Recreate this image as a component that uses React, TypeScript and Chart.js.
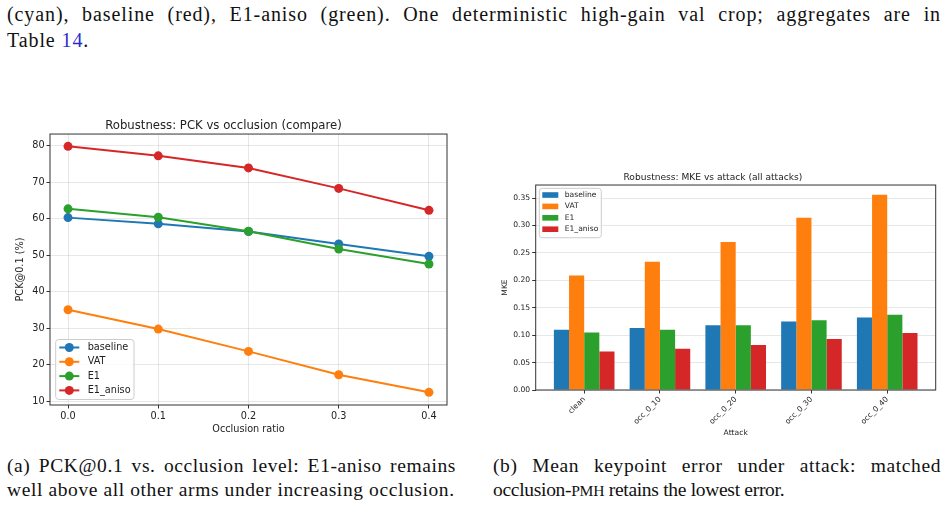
import React, { useEffect, useRef } from "react";
import { Chart, registerables } from "chart.js";

Chart.register(...registerables);

// ---- data ---------------------------------------------------------------
const seriesNames = ["baseline", "VAT", "E1", "E1_aniso"];
const seriesColors = ["#1f77b4", "#ff7f0e", "#2ca02c", "#d62728"];

const occlusionRatios = [0.0, 0.1, 0.2, 0.3, 0.4];
const occlusionTicks = [0.0, 0.1, 0.2, 0.3, 0.4];
const pckTicks = [10, 20, 30, 40, 50, 60, 70, 80];
const pckBaseline = [60.3, 58.6, 56.5, 53.1, 49.7];
const pckVAT = [35.1, 29.8, 23.7, 17.3, 12.5];
const pckE1 = [62.7, 60.4, 56.6, 51.7, 47.6];
const pckE1Aniso = [79.8, 77.2, 73.9, 68.3, 62.3];

const attackNames = ["clean", "occ_0_10", "occ_0_20", "occ_0_30", "occ_0_40"];
const attackPositions = [0, 1, 2, 3, 4];
const mkeTicks = [0.0, 0.05, 0.1, 0.15, 0.2, 0.25, 0.3, 0.35];
const mkeBaseline = [0.11, 0.113, 0.118, 0.125, 0.132];
const mkeVAT = [0.209, 0.234, 0.27, 0.314, 0.356];
const mkeE1 = [0.105, 0.11, 0.118, 0.127, 0.137];
const mkeE1Aniso = [0.07, 0.075, 0.082, 0.093, 0.104];

// ---- shared styling -------------------------------------------------------
const SANS = "'DejaVu Sans', sans-serif";
const SERIF = "'Liberation Serif', 'Times New Roman', serif";
const INK = "#222";
const GRID = "rgba(176,176,176,0.3)";
const SPINE = "#333";

// Full box around the plotting area
const framePlugin = {
  id: "frame",
  afterDatasetsDraw(chart: any) {
    const { ctx, chartArea: a } = chart;
    ctx.save();
    ctx.strokeStyle = SPINE;
    ctx.lineWidth = 1;
    ctx.strokeRect(a.left, a.top, a.right - a.left, a.bottom - a.top);
    ctx.restore();
  },
};

type LegendSpec = {
  kind: "line" | "patch";
  dx: number;
  dy: number;
  anchorBottom: boolean;
  width: number;
  height: number;
  firstRow: number;
  rowGap: number;
  handleX: number;
  handleW: number;
  patchH: number;
  textX: number;
  fontSize: number;
};

function makeLegendPlugin(id: string, spec: LegendSpec) {
  return {
    id,
    afterDatasetsDraw(chart: any) {
      const { ctx, chartArea: a } = chart;
      const left = a.left + spec.dx;
      const top = spec.anchorBottom ? a.bottom - spec.dy - spec.height : a.top + spec.dy;
      ctx.save();
      ctx.beginPath();
      if (ctx.roundRect) ctx.roundRect(left, top, spec.width, spec.height, 3);
      else ctx.rect(left, top, spec.width, spec.height);
      ctx.fillStyle = "rgba(255,255,255,0.8)";
      ctx.fill();
      ctx.strokeStyle = "#cccccc";
      ctx.lineWidth = 1;
      ctx.stroke();
      chart.data.datasets.forEach((ds: any, i: number) => {
        const y = top + spec.firstRow + i * spec.rowGap;
        const color = seriesColors[i];
        const hx = left + spec.handleX;
        if (spec.kind === "line") {
          ctx.strokeStyle = color;
          ctx.lineWidth = 2;
          ctx.beginPath();
          ctx.moveTo(hx, y);
          ctx.lineTo(hx + spec.handleW, y);
          ctx.stroke();
          ctx.fillStyle = color;
          ctx.beginPath();
          ctx.arc(hx + spec.handleW / 2, y, 4.5, 0, Math.PI * 2);
          ctx.fill();
        } else {
          ctx.fillStyle = color;
          ctx.fillRect(hx, y - spec.patchH / 2, spec.handleW, spec.patchH);
        }
        ctx.fillStyle = INK;
        ctx.font = `${spec.fontSize}px ${SANS}`;
        ctx.textBaseline = "middle";
        ctx.textAlign = "left";
        ctx.fillText(ds.label, left + spec.textX, y);
      });
      ctx.restore();
    },
  };
}

// ---- (a) PCK vs occlusion ---------------------------------------------------
function PckChart() {
  const ref = useRef<HTMLCanvasElement | null>(null);
  useEffect(() => {
    if (!ref.current) return;
    const series = [pckBaseline, pckVAT, pckE1, pckE1Aniso];
    const tickFont = { family: SANS, size: 9.7 };
    const chart = new Chart(ref.current, {
      type: "line",
      data: {
        datasets: series.map((vals, i) => ({
          label: seriesNames[i],
          data: vals.map((v, j) => ({ x: occlusionRatios[j], y: v })),
          borderColor: seriesColors[i],
          backgroundColor: seriesColors[i],
          borderWidth: 2,
          pointRadius: 4.5,
          pointBorderWidth: 0,
          pointBackgroundColor: seriesColors[i],
          tension: 0,
          order: series.length - 1 - i,
        })),
      },
      options: {
        animation: false,
        responsive: false,
        maintainAspectRatio: false,
        layout: { padding: { left: 0, top: 0, right: 23, bottom: 0 } },
        plugins: {
          legend: { display: false },
          tooltip: { enabled: false },
          title: {
            display: true,
            text: "Robustness: PCK vs occlusion (compare)",
            color: INK,
            font: { family: SANS, size: 11.7, weight: "normal" },
            padding: { top: 8.5, bottom: 1.5 },
          },
        },
        scales: {
          x: {
            type: "linear",
            min: -0.02,
            max: 0.42,
            afterBuildTicks: (s: any) => {
              s.ticks = occlusionTicks.map((v) => ({ value: v }));
            },
            afterFit: (s: any) => {
              s.height = 40;
            },
            ticks: {
              callback: (v: any) => Number(v).toFixed(1),
              color: INK,
              font: tickFont,
              padding: 1.8,
              maxRotation: 0,
              autoSkip: false,
            },
            grid: { color: GRID, tickColor: SPINE, tickLength: 3.5, lineWidth: 1 },
            border: { display: false },
            title: {
              display: true,
              text: "Occlusion ratio",
              color: INK,
              font: tickFont,
              padding: { top: 0, bottom: 10 },
            },
          },
          y: {
            type: "linear",
            min: 9.03,
            max: 83.17,
            afterBuildTicks: (s: any) => {
              s.ticks = pckTicks.map((v) => ({ value: v }));
            },
            afterFit: (s: any) => {
              s.width = 50;
            },
            ticks: { color: INK, font: tickFont, padding: 1.8, autoSkip: false },
            grid: { color: GRID, tickColor: SPINE, tickLength: 3.5, lineWidth: 1 },
            border: { display: false },
            title: {
              display: true,
              text: "PCK@0.1 (%)",
              color: INK,
              font: tickFont,
              padding: { top: 15, bottom: 0 },
            },
          },
        },
      },
      plugins: [
        framePlugin,
        makeLegendPlugin("pckLegend", {
          kind: "line",
          dx: 5.7,
          dy: 5.5,
          anchorBottom: true,
          width: 78.3,
          height: 60,
          firstRow: 8,
          rowGap: 14.3,
          handleX: 3.6,
          handleW: 20,
          patchH: 0,
          textX: 32,
          fontSize: 9.7,
        }),
      ],
    } as any);
    return () => chart.destroy();
  }, []);
  return (
    <canvas
      ref={ref}
      width={470}
      height={335}
      style={{ position: "absolute", left: 0, top: 110, width: 470, height: 335 }}
    />
  );
}

// ---- (b) MKE vs attack ------------------------------------------------------
function MkeChart() {
  const ref = useRef<HTMLCanvasElement | null>(null);
  useEffect(() => {
    if (!ref.current) return;
    const series = [mkeBaseline, mkeVAT, mkeE1, mkeE1Aniso];
    const tickFont = { family: SANS, size: 7.6 };
    const chart = new Chart(ref.current, {
      type: "bar",
      data: {
        datasets: series.map((vals, i) => ({
          label: seriesNames[i],
          data: vals.map((v, j) => ({ x: attackPositions[j], y: v })),
          backgroundColor: seriesColors[i],
          borderWidth: 0,
          categoryPercentage: 0.8,
          barPercentage: 1.0,
        })),
      },
      options: {
        animation: false,
        responsive: false,
        maintainAspectRatio: false,
        layout: { padding: { left: 0, top: 0, right: 13.3, bottom: 0 } },
        plugins: {
          legend: { display: false },
          tooltip: { enabled: false },
          title: {
            display: true,
            text: "Robustness: MKE vs attack (all attacks)",
            color: INK,
            font: { family: SANS, size: 9.1, weight: "normal" },
            padding: { top: 7.2, bottom: 1.9 },
          },
        },
        scales: {
          x: {
            type: "linear",
            min: -0.64,
            max: 4.64,
            offset: false,
            afterBuildTicks: (s: any) => {
              s.ticks = attackPositions.map((v) => ({ value: v }));
            },
            afterFit: (s: any) => {
              s.height = 55;
            },
            ticks: {
              callback: (v: any) => attackNames[Math.round(Number(v))] ?? "",
              color: INK,
              font: tickFont,
              padding: 1.5,
              minRotation: 45,
              maxRotation: 45,
              autoSkip: false,
            },
            grid: {
              offset: false,
              drawOnChartArea: false,
              tickColor: SPINE,
              tickLength: 3.5,
            },
            border: { display: false },
            title: {
              display: true,
              text: "Attack",
              color: INK,
              font: tickFont,
              padding: { top: 0, bottom: 7.7 },
            },
          },
          y: {
            type: "linear",
            min: 0,
            max: 0.3738,
            afterBuildTicks: (s: any) => {
              s.ticks = mkeTicks.map((v) => ({ value: v }));
            },
            afterFit: (s: any) => {
              s.width = 45.7;
            },
            ticks: {
              callback: (v: any) => Number(v).toFixed(2),
              color: INK,
              font: tickFont,
              padding: 2,
              autoSkip: false,
            },
            grid: { color: GRID, tickColor: SPINE, tickLength: 3.5, lineWidth: 1 },
            border: { display: false },
            title: {
              display: true,
              text: "MKE",
              color: INK,
              font: tickFont,
              padding: { top: 10.4, bottom: 0 },
            },
          },
        },
      },
      plugins: [
        framePlugin,
        makeLegendPlugin("mkeLegend", {
          kind: "patch",
          dx: 3.6,
          dy: 3.3,
          anchorBottom: false,
          width: 62,
          height: 49.4,
          firstRow: 6.7,
          rowGap: 11.4,
          handleX: 3,
          handleW: 16,
          patchH: 5.6,
          textX: 25.4,
          fontSize: 7.6,
        }),
      ],
    } as any);
    return () => chart.destroy();
  }, []);
  return (
    <canvas
      ref={ref}
      width={459}
      height={280}
      style={{ position: "absolute", left: 490, top: 165, width: 459, height: 280 }}
    />
  );
}

// ---- page ---------------------------------------------------------------------
const bodyLine: React.CSSProperties = {
  position: "absolute",
  fontFamily: SERIF,
  fontSize: 20,
  letterSpacing: 0.9,
  lineHeight: "26px",
  color: "#111",
  margin: 0,
};

const captionLine: React.CSSProperties = {
  position: "absolute",
  fontFamily: SERIF,
  fontSize: 19.5,
  letterSpacing: 0.6,
  lineHeight: "24px",
  color: "#111",
  margin: 0,
};

const justified: React.CSSProperties = { textAlign: "justify", textAlignLast: "justify" };

export default function App() {
  return (
    <div
      style={{
        position: "fixed",
        left: 0,
        top: 0,
        width: 949,
        height: 529,
        background: "#fff",
        overflow: "hidden",
      }}
    >
      <div style={{ ...bodyLine, ...justified, left: 7, top: 1.3, width: 934 }}>
        (cyan), baseline (red), E1-aniso (green). One deterministic high-gain val crop; aggregates are in
      </div>
      <div style={{ ...bodyLine, left: 7, top: 27.3 }}>
        Table <span style={{ color: "#2b2bd0" }}>14</span>.
      </div>

      <PckChart />
      <MkeChart />

      <div style={{ ...captionLine, ...justified, left: 7, top: 454.4, width: 449 }}>
        (a) PCK@0.1 vs. occlusion level: E1-aniso remains
      </div>
      <div style={{ ...captionLine, left: 7, top: 478.4 }}>
        well above all other arms under increasing occlusion.
      </div>
      <div style={{ ...captionLine, ...justified, left: 493, top: 454.4, width: 448 }}>
        (b) Mean keypoint error under attack: matched
      </div>
      <div style={{ ...captionLine, left: 493, top: 478.4, letterSpacing: -0.3 }}>
        occlusion-<span style={{ fontSize: "0.8em" }}>PMH</span> retains the lowest error.
      </div>
    </div>
  );
}
